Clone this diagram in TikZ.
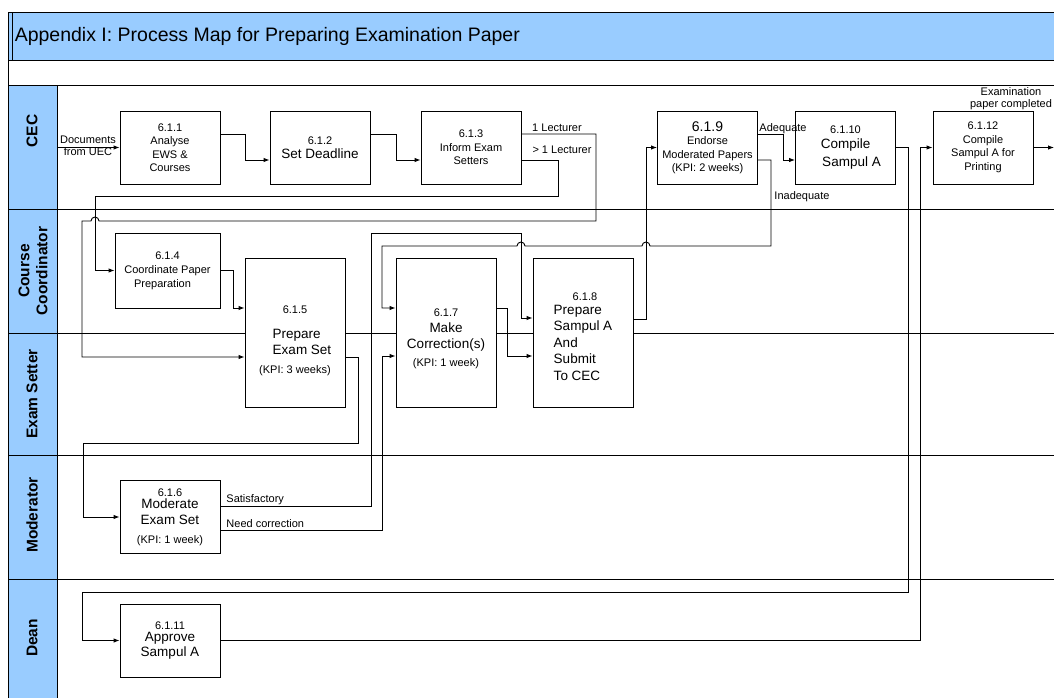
\documentclass[tikz,border=0pt]{standalone}
\usepackage{fontspec}
\setmainfont{Liberation Sans}
\usetikzlibrary{arrows.meta,positioning}
\definecolor{hdrblue}{HTML}{99CCFF}
\newcommand\fnum{\fontsize{11}{14}\selectfont}
\newcommand\fsmall{\fontsize{11}{13.5}\selectfont}
\newcommand\fbig{\fontsize{13.5}{16}\selectfont}

\begin{document}
\begin{tikzpicture}[x=1pt,y=-1pt,on grid,line width=0.9pt,
    >={Latex[length=6pt,width=4.5pt]}]
  \tikzstyle{procB}=[draw,fill=white,minimum width=100pt,minimum height=73pt,inner sep=1pt,align=center,font=\fsmall]
  \tikzstyle{laneB}=[rotate=90,align=center,font=\bfseries\fontsize{15.5}{18}\selectfont]
  \tikzstyle{lbl}=[font=\fsmall,inner sep=0pt]
  \useasboundingbox (0,0) rectangle (1054,697);

  % Frame
  \fill[hdrblue] (8,12) rectangle (1060,60);
  \fill[hdrblue] (8,85) rectangle (57,700);
  \draw[line width=0.7pt] (8,12) -- (1060,12) (8,60) -- (1060,60) (8,85) -- (1060,85);
  \draw[line width=0.7pt] (8,12) -- (8,700) (12,12) -- (12,60) (57,85) -- (57,700);
  \foreach \y in {209,333,455,579} \draw[line width=0.7pt] (8,\y) -- (1060,\y);
  \node[anchor=west,font=\fontsize{19.5}{22}\selectfont] (title) at (11,36) {Appendix I: Process Map for Preparing Examination Paper};

  % Lanes
  \node[laneB] (cec) at (32,131) {CEC};
  \node[laneB] (cc) at (33,271) {Course\\Coordinator};
  \node[laneB] (es) at (32,394) {Exam Setter};
  \node[laneB] (mod) at (32,515) {Moderator};
  \node[laneB] (dean) at (32,638) {Dean};

  % Processes
  \node[procB] (p1) at (170,147.5) {6.1.1\\Analyse\\EWS \&\\Courses};
  \node[procB, right=150pt of p1] (p2) {6.1.2\\\fbig Set Deadline};
  \node[procB, right=151pt of p2] (p3) {6.1.3\\Inform Exam\\Setters};
  \node[procB, right=236.5pt of p3] (p9) {{\fontsize{14}{15}\selectfont 6.1.9}\\Endorse\\Moderated Papers\\(KPI: 2 weeks)};
  \node[procB, right=138pt of p9, font=\fbig] (p10) {{\fsmall 6.1.10}\\[-1pt]Compile\\[2pt]\hspace*{12pt}Sampul A};
  \node[procB, right=137.5pt of p10] (p12) {6.1.12\\Compile\\Sampul A for\\Printing};
  \node[procB, minimum width=105pt, minimum height=75pt, font=\fnum] (p4) at (167.5,270.5) {6.1.4\\Coordinate Paper\hspace*{10pt}\\Preparation\hspace*{10pt}};
  \node[procB, minimum height=149pt, font=\fbig] (p5) at (295,332.5) {\rule{0pt}{24pt}{\fsmall 6.1.5}\\[9pt]\hspace*{14pt}\makebox[59pt][l]{Prepare}\\\hspace*{14pt}Exam Set\\[3pt]{\fsmall (KPI: 3 weeks)}};
  \node[procB, minimum height=149pt, right=151pt of p5, font=\fbig] (p7) {\rule{0pt}{20pt}{\fsmall 6.1.7}\\Make\\Correction(s)\\[2pt]{\fsmall (KPI: 1 week)}};
  \node[procB, minimum height=149pt, right=137pt of p7, align=left, font=\fontsize{13.5}{16.5}\selectfont] (p8) {\rule{0pt}{16pt}\hspace*{19pt}{\fsmall 6.1.8}\\[-3pt]Prepare\\Sampul A\\And\\Submit\\To CEC};
  \node[procB, font=\fbig] (p6) at (170,517) {{\fsmall 6.1.6}\\[-4pt]Moderate\\Exam Set\\[3pt]{\fsmall (KPI: 1 week)}};
  \node[procB, below=123.5pt of p6, font=\fbig] (p11) {{\fsmall 6.1.11}\\[-4pt]Approve\\[-1pt]Sampul A};

  % Flows
  \coordinate (uec) at (57,147.5);
  \draw[->] (uec) -- (p1.west);
  \node[lbl, align=center, font=\fontsize{11}{12}\selectfont] (uecl) at (88,146) {Documents\\from UEC};
  \draw[->] ([yshift=13.5pt]p1.east) -- ++(25,0) |- ([yshift=-12.5pt]p2.west);
  \draw[->] ([yshift=13.5pt]p2.east) -- ++(26,0) |- ([yshift=-12.5pt]p3.west);

  \draw[->] ([yshift=13.5pt]p3.east) -- (596,134) -- (596,221) -- (99,221)
      arc[start angle=0,end angle=-180,radius=4] -- (82,221) |- ([yshift=-24.5pt]p5.west);
  \node[lbl] (one) at (557,128) {1 Lecturer};
  \draw[->] ([yshift=-12.5pt]p3.east) -- (558,160) -- (558,196) -- (95,196) |- (p4.west);
  \node[lbl] (more) at (562,150) {> 1 Lecturer};

  \draw[->] (p4.east) -- ++(13,0) |- ([yshift=24.5pt]p5.west);
  \draw[->] ([yshift=-24.5pt]p5.east) -- (358,357) -- (358,443) -- (83,443) |- (p6.west);

  \draw[->] ([yshift=11pt]p6.east) -- (371,506) -- (371,233) -- (521,233) |- ([yshift=14.5pt]p8.west);
  \node[lbl, anchor=base west] (sat) at (226,502) {Satisfactory};
  \draw[->] ([yshift=-13pt]p6.east) -- (382,530) |- ([yshift=-23.5pt]p7.west);
  \node[lbl, anchor=base west] (corr) at (226,527) {Need correction};

  \draw[->] ([yshift=24.5pt]p7.east) -- (507,308) |- ([yshift=-23.5pt]p8.west);
  \draw[->] ([yshift=13.5pt]p8.east) -- (646,319) |- (p9.west);

  \draw[->] ([yshift=13.5pt]p9.east) -- (783,134) |- ([yshift=-12.5pt]p10.west);
  \node[lbl, anchor=base west] (adq) at (759,131) {Adequate};
  \draw[->] ([yshift=-12.5pt]p9.east) -- (771,160) -- (771,246) -- (650,246)
      arc[start angle=0,end angle=-180,radius=4] -- (525,246)
      arc[start angle=0,end angle=-180,radius=4] -- (382,246) |- ([yshift=24.5pt]p7.west);
  \node[lbl, anchor=base west] (inadq) at (774,199) {Inadequate};

  \draw[->] (p10.east) -- (908,147.5) -- (908,592) -- (82,592) |- (p11.west);
  \draw[->] (p11.east) -- (920,640.5) |- (p12.west);
  \coordinate (done) at (1054,147.5);
  \draw[->] (p12.east) -- (done);
  \node[lbl, align=center, font=\fontsize{11}{12}\selectfont] (donel) at (1011,99) {Examination\\paper completed};
\end{tikzpicture}
\end{document}
